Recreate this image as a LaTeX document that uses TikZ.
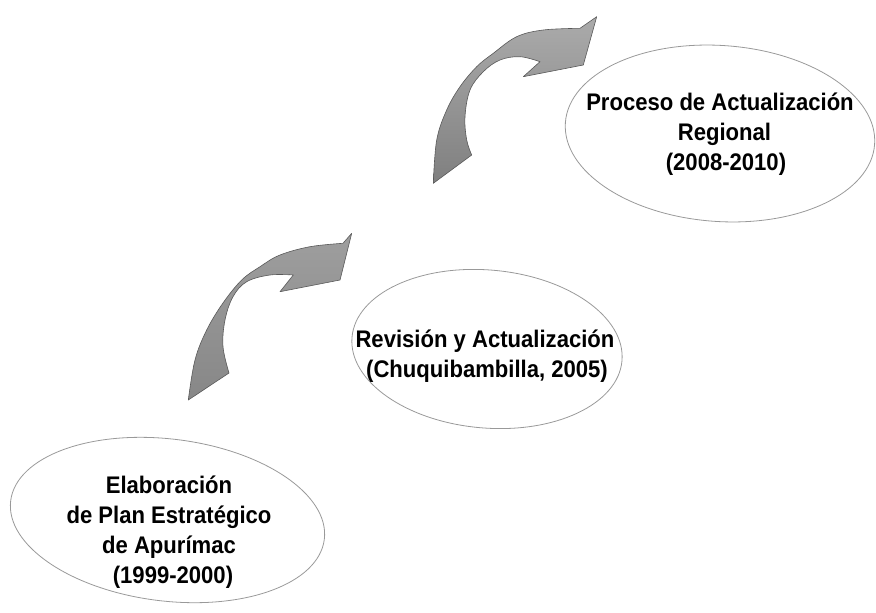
\documentclass[tikz,border=0pt]{standalone}
\usepackage{fontspec}
\setmainfont{Liberation Sans}[FakeStretch=0.92]
\begin{document}
\begin{tikzpicture}[x=1pt,y=-1pt,
  label/.style={align=center,font=\fontsize{24}{30}\selectfont\bfseries,inner sep=0pt,anchor=base},
  oval/.style={draw=black!40,line width=0.8pt},
  bigarrow/.style={draw=black!65,line width=0.6pt,line join=round},
]
\useasboundingbox (0,0) rectangle (876,613);
% ellipses
\coordinate (c1) at (167.5,520);
\coordinate (c2) at (487,349);
\coordinate (c3) at (720,133.5);
\draw[oval,rotate around={-7:(c1)}] (c1) ellipse [x radius=158,y radius=81];
\draw[oval,rotate around={-5:(c2)}] (c2) ellipse [x radius=135.5,y radius=79];
\draw[oval,rotate around={-4:(c3)}] (c3) ellipse [x radius=155,y radius=88];
% texts (anchor=base is the baseline of the last line)
\node[label] (t1) at (169,583) {Elaboración\\de Plan Estratégico\\de Apurímac\\\hspace*{8pt}(1999-2000)};
\node[label] (t2) at (485,377) {Revisión y Actualización\\\hspace*{4pt}(Chuquibambilla, 2005)};
\node[label] (t3) at (720,170) {Proceso de Actualización\\\hspace*{9pt}Regional\\\hspace*{12pt}(2008-2010)};
% lower curved arrow
\shade[bigarrow,bottom color=black!47,top color=black!38]
  (188.3,400) -- plot[smooth,tension=0.6] coordinates {(188.3,400) (195,360) (206.7,330) (223,303) (241.7,280) (260,266.7) (280,255) (310,246.7) (343,243.3)}
  -- (351.7,233.3) -- (340,280) -- (280,291.7) -- (293.3,275)
  -- plot[smooth,tension=0.6] coordinates {(293.3,275) (270,275) (246.7,281.7) (233,296.7) (225,320) (223,346.7) (229,373)}
  -- cycle;
% upper curved arrow
\shade[bigarrow,bottom color=black!50,top color=black!33]
  (433.3,183.3) -- plot[smooth,tension=0.6] coordinates {(433.3,183.3) (436.7,140) (446.7,110) (460,86.7) (476.7,66.7) (493.3,53.3) (516.7,36.7) (543.3,30) (580,28.3)}
  -- (596.7,16.7) -- (583.3,65) -- (523.3,76.7) -- (540,61.7)
  -- plot[smooth,tension=0.6] coordinates {(540,61.7) (520,56.7) (500,60) (483.3,71.7) (470,90) (465,116.7) (466.7,140) (471.7,155)}
  -- cycle;
\end{tikzpicture}
\end{document}
